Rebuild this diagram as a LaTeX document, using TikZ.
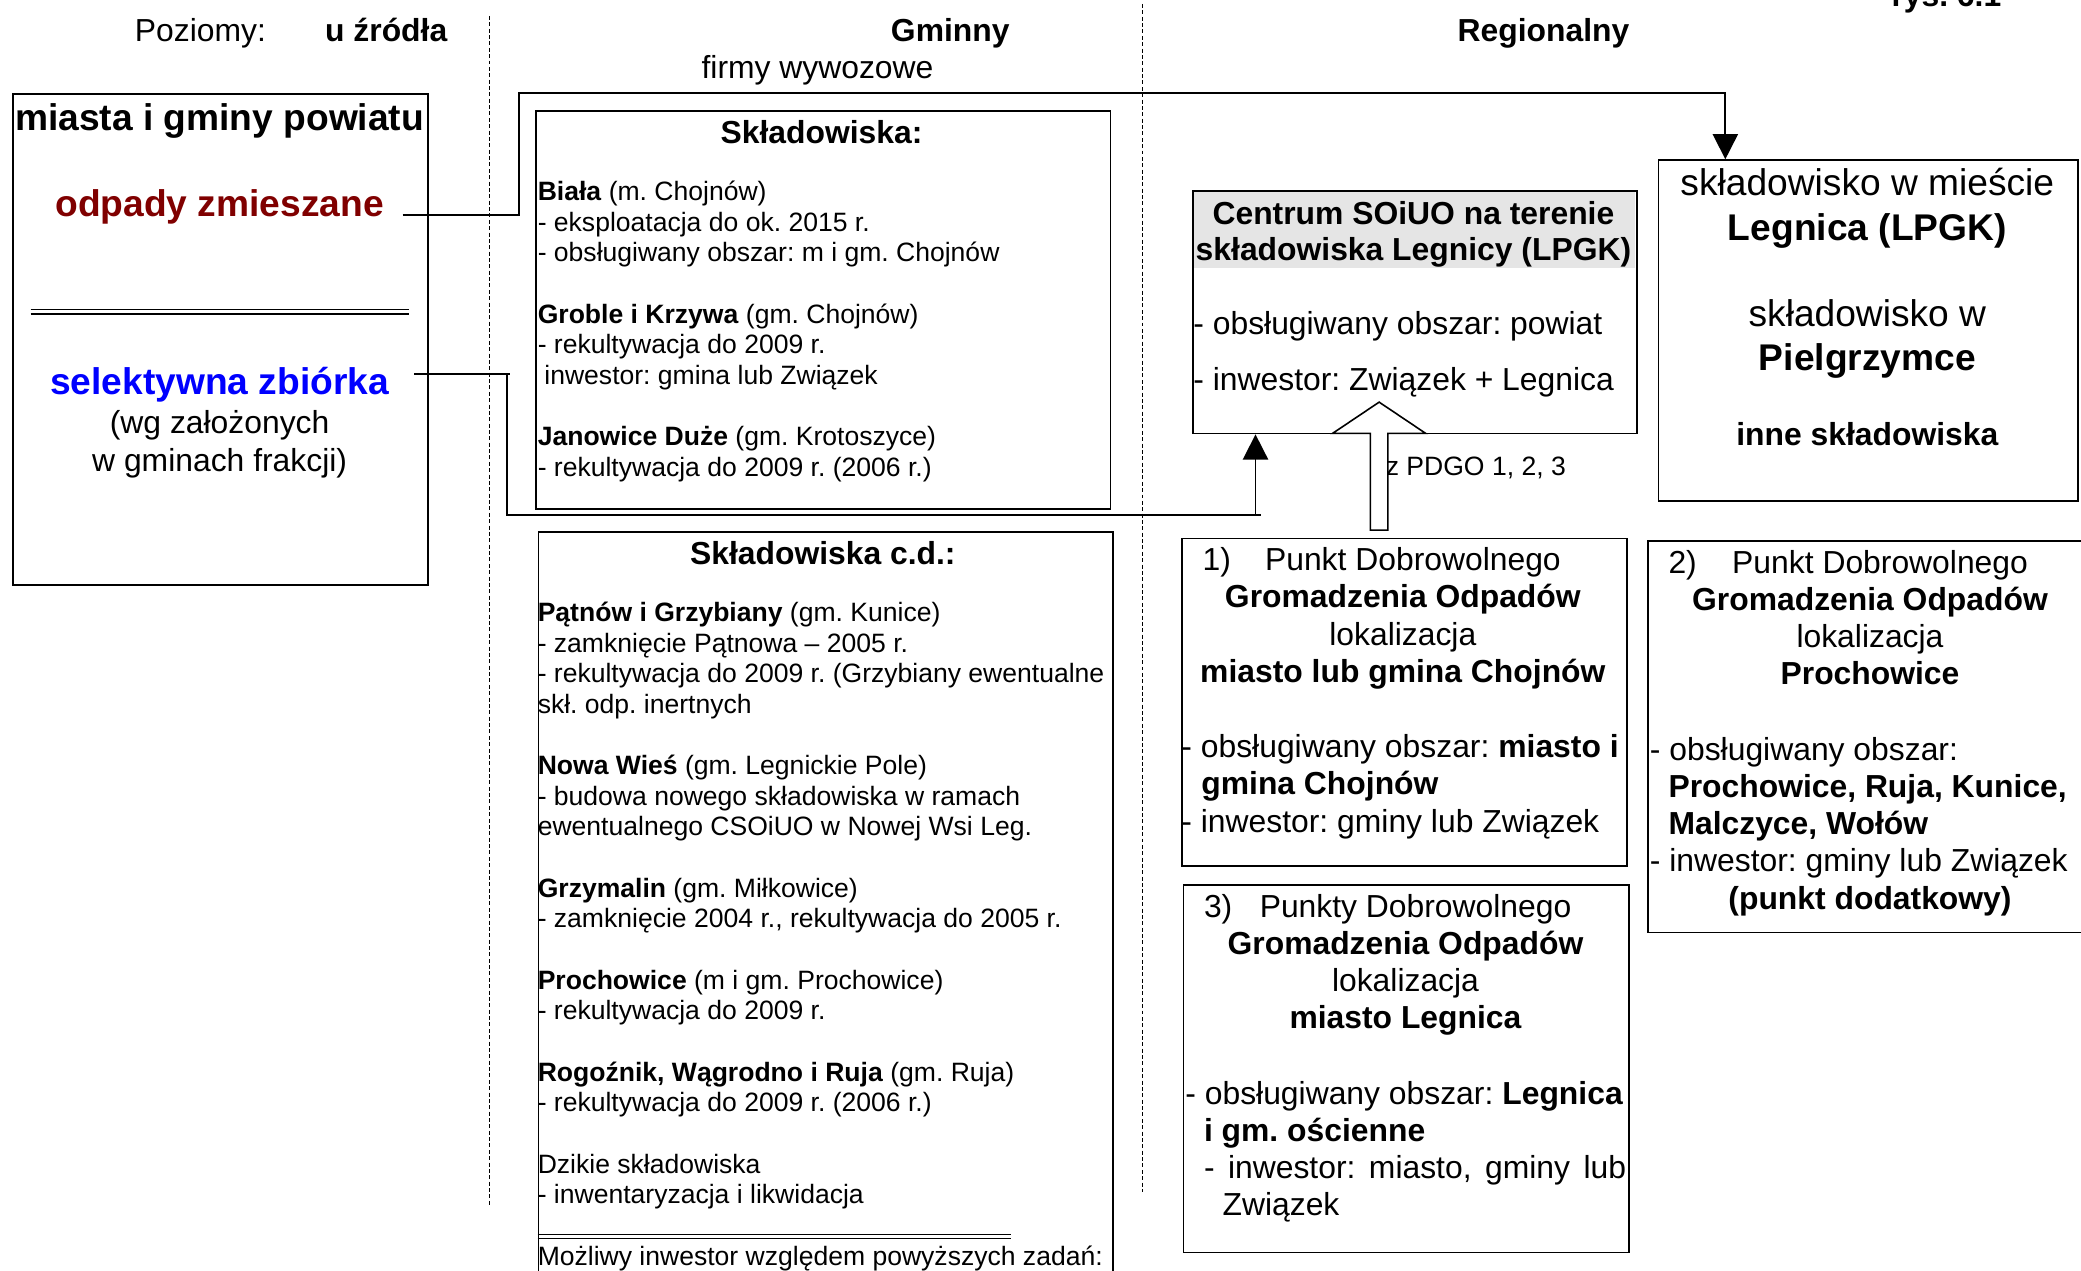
\documentclass[tikz,border=0pt]{standalone}
\usepackage{fontspec}
\setmainfont{Liberation Sans}
\usetikzlibrary{arrows.meta,calc}
\definecolor{darkred}{HTML}{800000}
\definecolor{pureblue}{HTML}{0000FF}
\newcommand\fsz[2]{\fontsize{#1}{#2}\selectfont}
\frenchspacing
\begin{document}
\frenchspacing
\begin{tikzpicture}[x=1pt,y=-1pt,
  box/.style={draw, line width=1.3pt, inner sep=0pt, anchor=north west},
  conn/.style={line width=1.3pt},
  lvl/.style={line width=1pt, dash pattern=on 3pt off 1.8pt},
  tl/.style={inner sep=0pt, anchor=base west},
  tc/.style={inner sep=0pt, anchor=base},
  f20/.style={font=\fsz{20}{23.1}},
  f24/.style={font=\fsz{24}{28.2}},
  f24b/.style={font=\fsz{24}{28.2}\bfseries},
  f28/.style={font=\fsz{28}{32}},
  f28b/.style={font=\fsz{28}{32}\bfseries},
  tip/.style={-{Triangle[width=19pt,length=19pt]}}
]
\useasboundingbox (0,0) rectangle (1568,957.6);

% level dividers
\draw[lvl] (369,12) -- (369,908);
\draw[lvl] (861,3) -- (861,898);

% boxes
\node[box, minimum width=313pt, minimum height=370pt] (left) at (9,70) {};
\node[box, minimum width=433pt, minimum height=300pt] (sk1) at (403,83) {};
\node[box, minimum width=433pt, minimum height=600pt] (sk2) at (405,400) {};
\fill[black!10] (899,144) rectangle (1232,202);
\node[box, minimum width=335pt, minimum height=183pt] (cen) at (898,143) {};
\node[box, minimum width=316pt, minimum height=257pt] (rbox) at (1249,120) {};
\node[box, minimum width=335pt, minimum height=247pt] (p1) at (890,405) {};
\node[box, minimum width=330pt, minimum height=295pt] (p2) at (1241,407) {};
\node[box, minimum width=336pt, minimum height=277pt] (p3) at (891,666) {};

\draw[line width=1pt] (23,233) -- (308,233) (23,236.5) -- (308,236.5);
\draw[line width=0.8pt] (405,930) -- (762,930) (405,933.5) -- (762,933.5);

\begin{scope}[shift={(0,2)}]
% headers
\node[tc,f24] (hpoz) at (151,29) {Poziomy:};
\node[tc,f24b] (hzr) at (291,29) {u źródła};
\node[tc,f24b] (hgm) at (716,29) {Gminny};
\node[tc,f24] (hfw) at (616,57) {firmy wywozowe};
\node[tc,f24b] (hreg) at (1163,29) {Regionalny};
\node[tl,f24b] (rys) at (1425,3) {rys. 6.1};

% left box
\node[tc,f28b] (lt) at (165.5,96) {miasta i gminy powiatu};
\node[tc,f28b,text=darkred] (odp) at (165.5,161) {odpady zmieszane};
\node[tc,f28b,text=pureblue] (sel) at (165.5,295) {selektywna zbiórka};
\node[tc,f24] (wg1) at (165.5,325) {(wg założonych};
\node[tc,f24] (wg2) at (165.5,353) {w gminach frakcji)};

% Skladowiska
\node[tc,f24b] (sk1t) at (619,106) {Składowiska:};
\node[anchor=north west, inner sep=0pt, align=left, f20] (sk1x) at (405,132.8) {\strut\textbf{Biała} (m. Chojnów)\\
- eksploatacja do ok. 2015 r.\\
- obsługiwany obszar: m i gm. Chojnów\\[23.1pt]
\textbf{Groble i Krzywa} (gm. Chojnów)\\
- rekultywacja do 2009 r.\\
\hspace*{5pt}inwestor: gmina lub Związek\\[23.1pt]
\textbf{Janowice Duże} (gm. Krotoszyce)\\
- rekultywacja do 2009 r. (2006 r.)};

\node[tc,f24b] (sk2t) at (620,423) {Składowiska c.d.:};
\node[anchor=north west, inner sep=0pt, align=left, f20] (sk2x) at (405,449.8) {\strut\textbf{Pątnów i Grzybiany} (gm. Kunice)\\
- zamknięcie Pątnowa – 2005 r.\\
- rekultywacja do 2009 r. (Grzybiany ewentualne\\
skł. odp. inertnych\\[23.1pt]
\textbf{Nowa Wieś} (gm. Legnickie Pole)\\
- budowa nowego składowiska w ramach\\
ewentualnego CSOiUO w Nowej Wsi Leg.\\[23.1pt]
\textbf{Grzymalin} (gm. Miłkowice)\\
- zamknięcie 2004 r., rekultywacja do 2005 r.\\[23.1pt]
\textbf{Prochowice} (m i gm. Prochowice)\\
- rekultywacja do 2009 r.\\[23.1pt]
\textbf{Rogoźnik, Wągrodno i Ruja} (gm. Ruja)\\
- rekultywacja do 2009 r. (2006 r.)\\[23.1pt]
Dzikie składowiska\\
- inwentaryzacja i likwidacja\\[23.1pt]
Możliwy inwestor względem powyższych zadań:};

% Centrum
\node[tc,f24b] (c1) at (1065,167) {Centrum SOiUO na terenie};
\node[tc,f24b] (c2) at (1065,194) {składowiska Legnicy (LPGK)};
\node[tl,f24] (c3) at (899,250) {- obsługiwany obszar: powiat};
\node[tl,f24] (c4) at (899,292) {- inwestor: Związek + Legnica};

% right box
\node[tc,f28] (r1) at (1407,145) {składowisko w mieście};
\node[tc,f28b] (r2) at (1407,179) {Legnica (LPGK)};
\node[tc,f28] (r3) at (1407,244) {składowisko w};
\node[tc,f28b] (r4) at (1407,277) {Pielgrzymce};
\node[tc,f24b] (r5) at (1407,334) {inne składowiska};

% PDGO 1
\node[tl,f24] (p1n) at (906,428) {1)};
\node[tl,f24] (p1a) at (953,428) {Punkt Dobrowolnego};
\node[tc,f24b] (p1b) at (1057,456) {Gromadzenia Odpadów};
\node[tc,f24] (p1c) at (1057,484) {lokalizacja};
\node[tc,f24b] (p1d) at (1057,512) {miasto lub gmina Chojnów};
\node[tl,f24] (p1e) at (890,569) {- obsługiwany obszar: \textbf{miasto i}};
\node[tl,f24b] (p1f) at (905,597) {gmina Chojnów};
\node[tl,f24] (p1g) at (890,625) {- inwestor: gminy lub Związek};

% PDGO 2
\node[tl,f24] (p2n) at (1257,430) {2)};
\node[tl,f24] (p2a) at (1305,430) {Punkt Dobrowolnego};
\node[tc,f24b] (p2b) at (1409,458) {Gromadzenia Odpadów};
\node[tc,f24] (p2c) at (1409,486) {lokalizacja};
\node[tc,f24b] (p2d) at (1409,514) {Prochowice};
\node[tl,f24] (p2e) at (1243,571) {- obsługiwany obszar:};
\node[tl,f24b] (p2f) at (1257,599) {Prochowice, Ruja, Kunice,};
\node[tl,f24b] (p2g) at (1257,627) {Malczyce, Wołów};
\node[tl,f24] (p2h) at (1243,655) {- inwestor: gminy lub Związek};
\node[tc,f24b] (p2i) at (1409,683) {(punkt dodatkowy)};

% PDGO 3
\node[tl,f24] (p3n) at (907,689) {3)};
\node[tl,f24] (p3a) at (949,689) {Punkty Dobrowolnego};
\node[tc,f24b] (p3b) at (1059,717) {Gromadzenia Odpadów};
\node[tc,f24] (p3c) at (1059,745) {lokalizacja};
\node[tc,f24b] (p3d) at (1059,773) {miasto Legnica};
\node[tl,f24] (p3e) at (893,830) {- obsługiwany obszar: \textbf{Legnica}};
\node[tl,f24b] (p3f) at (907,858) {i gm. ościenne};
\node[tl,f24] (p3g) at (907,886) {\makebox[318pt][s]{- inwestor: miasto, gminy lub}};
\node[tl,f24] (p3h) at (921,914) {Związek};

\node[tl,f20] (zp) at (1044,356) {z PDGO 1, 2, 3};
\end{scope}

% connectors
\coordinate (a0) at ($(odp.base east)+(14,-1)$);
\draw[conn,tip] (a0) -- (391,162) -- (391,70) -| ($(rbox.north west)+(51,0)$);
\coordinate (b0) at ($(sel.base east)+(19,-15)$);
\draw[conn] (b0) -- (384,282) (382,282) -- (382,388) -- (950,388);
\draw[conn,tip] (946,388) -- ($(cen.south west)+(48,0)$);

% block arrow from PDGO to Centrum
\coordinate (bab) at ($(p1.north)+(-19,0)$);
\draw[line width=1.2pt, fill=white] (bab) ++(-6.6,-5.6) -- ++(0,-72.9) -- ++(-28.4,0) -- ++(35,-23.5) -- ++(35,23.5) -- ++(-28.4,0) -- ++(0,72.9) -- cycle;
\end{tikzpicture}
\end{document}
